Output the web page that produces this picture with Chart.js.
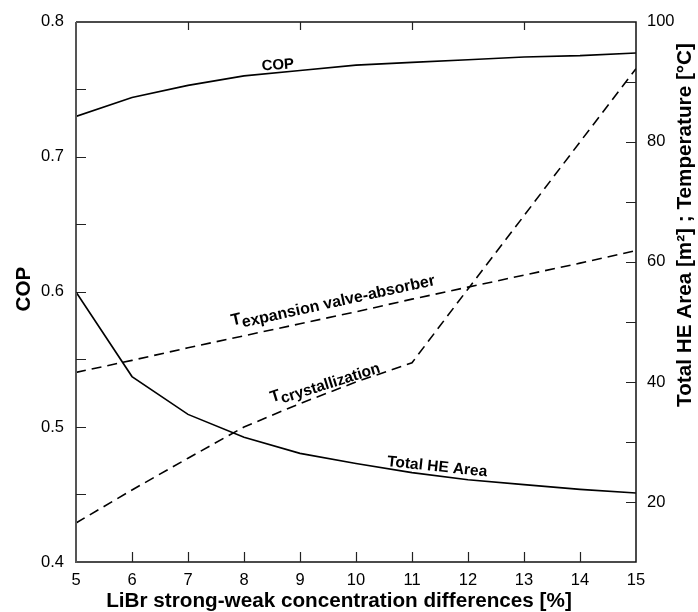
<!DOCTYPE html>
<html>
<head>
<meta charset="utf-8">
<script src="https://cdn.jsdelivr.net/npm/chart.js@4/dist/chart.umd.min.js"></script>
<style>
  html, body { margin: 0; padding: 0; background: #fff; }
  #wrap { width: 698px; height: 612px; }
</style>
</head>
<body>
<div id="wrap"><canvas id="c" width="698" height="612"></canvas></div>
<script>
// ---- data ----
const concDiff = [5, 6, 7, 8, 9, 10, 11, 12, 13, 14, 15];
const copValues = [0.730, 0.744, 0.753, 0.760, 0.764, 0.768, 0.770, 0.772, 0.774, 0.775, 0.777];
const totalHEArea = [55.0, 40.9, 34.6, 30.8, 28.1, 26.4, 24.9, 23.7, 22.9, 22.1, 21.5];
const tExpansionValveAbsorber = [41.6, 43.6, 45.7, 47.7, 49.7, 51.7, 53.8, 55.8, 57.8, 59.8, 61.9];
const tCrystallization = [16.5, 22.0, 27.3, 32.5, 36.4, 40.0, 43.2, 55.5, 67.7, 80.0, 92.2];

// ---- tick values ----
const xTickValues = [5, 6, 7, 8, 9, 10, 11, 12, 13, 14, 15];
const xTopTickMarks = [7, 9, 11, 13];
const leftTickValues = [0.4, 0.5, 0.6, 0.7, 0.8];
const leftTickMarks = [0.45, 0.5, 0.55, 0.6, 0.65, 0.7, 0.75];
const rightTickValues = [20, 40, 60, 80, 100];
const rightTickMarks = [20, 30, 40, 50, 60, 70, 80, 90];

const FONT = '"Liberation Sans", Arial, Helvetica, sans-serif';

function pts(xs, ys) { return xs.map((x, i) => ({ x: x, y: ys[i] })); }

// in-plot text labels (anchored in data units)
const curveLabels = [
  { axis: 'y',  x: 8.32,  y: 0.764, angle: -4,    main: 'COP', sub: '', size: 15 },
  { axis: 'y1', x: 7.79,  y: 49.4,  angle: -12.4, main: 'T', sub: 'expansion valve-absorber', size: 16.5 },
  { axis: 'y1', x: 8.50,  y: 36.6,  angle: -17.5, main: 'T', sub: 'crystallization', size: 16 },
  { axis: 'y1', x: 10.55, y: 26.0,  angle: 6,     main: 'Total HE Area', sub: '', size: 15.5 }
];

const decorPlugin = {
  id: 'decor',
  afterDatasetsDraw(chart) {
    const ctx = chart.ctx;
    const a = chart.chartArea;
    const xs = chart.scales.x, yl = chart.scales.y, yr = chart.scales.y1;
    ctx.save();
    // frame
    ctx.strokeStyle = '#111';
    ctx.lineWidth = 1.5;
    ctx.beginPath();
    ctx.moveTo(a.left, a.top); ctx.lineTo(a.right, a.top);
    ctx.lineTo(a.right, a.bottom); ctx.lineTo(a.left, a.bottom);
    ctx.stroke();
    ctx.strokeStyle = '#555';
    ctx.lineWidth = 2;
    ctx.beginPath();
    ctx.moveTo(a.left, a.top); ctx.lineTo(a.left, a.bottom + 1);
    ctx.stroke();
    // tick marks (inward)
    ctx.strokeStyle = '#222';
    ctx.lineWidth = 1.2;
    ctx.beginPath();
    leftTickMarks.forEach(v => { const p = Math.round(yl.getPixelForValue(v)) + 0.5; ctx.moveTo(a.left, p); ctx.lineTo(a.left + 10, p); });
    rightTickMarks.forEach(v => { const p = Math.round(yr.getPixelForValue(v)) + 0.5; ctx.moveTo(a.right, p); ctx.lineTo(a.right - 10, p); });
    xTickValues.slice(1, -1).forEach(v => { const p = Math.round(xs.getPixelForValue(v)) + 0.5; ctx.moveTo(p, a.bottom); ctx.lineTo(p, a.bottom - 10); });
    xTopTickMarks.forEach(v => { const p = Math.round(xs.getPixelForValue(v)) + 0.5; ctx.moveTo(p, a.top); ctx.lineTo(p, a.top + 8); });
    ctx.stroke();

    // curve labels
    ctx.fillStyle = '#000';
    curveLabels.forEach(l => {
      const px = xs.getPixelForValue(l.x);
      const py = chart.scales[l.axis].getPixelForValue(l.y);
      ctx.save();
      ctx.translate(px, py);
      ctx.rotate(l.angle * Math.PI / 180);
      ctx.textAlign = 'left';
      ctx.textBaseline = 'alphabetic';
      ctx.font = 'bold ' + l.size + 'px ' + FONT;
      ctx.fillText(l.main, 0, 0);
      if (l.sub) {
        const w = ctx.measureText(l.main).width;
        ctx.font = 'bold ' + (l.size - 0.5) + 'px ' + FONT;
        ctx.fillText(l.sub, w, 4);
      }
      ctx.restore();
    });

    // axis titles
    ctx.font = 'bold 20.7px ' + FONT;
    ctx.textAlign = 'center';
    ctx.textBaseline = 'middle';
    ctx.fillText('LiBr strong-weak concentration differences [%]', 339, 601);
    ctx.save();
    ctx.translate(24, 289);
    ctx.rotate(-Math.PI / 2);
    ctx.fillText('COP', 0, 0);
    ctx.restore();
    ctx.save();
    ctx.translate(685, 225);
    ctx.rotate(-Math.PI / 2);
    ctx.fillText('Total HE Area [m\u00B2] ; Temperature [\u00B0C]', 0, 0);
    ctx.restore();
    ctx.restore();
  }
};

const tickFont = { family: FONT, size: 16.5 };

new Chart(document.getElementById('c'), {
  type: 'line',
  data: {
    datasets: [
      { label: 'COP', data: pts(concDiff, copValues), yAxisID: 'y',
        borderColor: '#000', borderWidth: 1.6, pointRadius: 0, tension: 0, fill: false },
      { label: 'Total HE Area', data: pts(concDiff, totalHEArea), yAxisID: 'y1',
        borderColor: '#000', borderWidth: 1.6, pointRadius: 0, tension: 0, fill: false },
      { label: 'T expansion valve-absorber', data: pts(concDiff, tExpansionValveAbsorber), yAxisID: 'y1',
        borderColor: '#000', borderWidth: 1.6, borderDash: [10, 6], pointRadius: 0, tension: 0, fill: false },
      { label: 'T crystallization', data: pts(concDiff, tCrystallization), yAxisID: 'y1',
        borderColor: '#000', borderWidth: 1.6, borderDash: [10, 6], pointRadius: 0, tension: 0, fill: false }
    ]
  },
  options: {
    responsive: false,
    animation: false,
    devicePixelRatio: 1,
    layout: { padding: { top: 18, left: 0, right: 0, bottom: 0 } },
    plugins: { legend: { display: false }, tooltip: { enabled: false }, title: { display: false } },
    scales: {
      x: {
        type: 'linear', position: 'bottom', min: 5, max: 15,
        grid: { display: false, drawTicks: false }, border: { display: false },
        afterBuildTicks: s => { s.ticks = xTickValues.map(v => ({ value: v })); },
        afterFit: s => { s.height = 50; },
        ticks: { font: tickFont, color: '#000', padding: 9, autoSkip: false, maxRotation: 0 }
      },
      y: {
        type: 'linear', position: 'left', min: 0.4, max: 0.8,
        grid: { display: false, drawTicks: false }, border: { display: false },
        afterBuildTicks: s => { s.ticks = leftTickValues.map(v => ({ value: v })); },
        afterFit: s => { s.width = 76; },
        ticks: { font: tickFont, color: '#000', padding: 12, callback: v => v.toFixed(1) }
      },
      y1: {
        type: 'linear', position: 'right', min: 10, max: 100,
        grid: { display: false, drawTicks: false }, border: { display: false },
        afterBuildTicks: s => { s.ticks = rightTickValues.map(v => ({ value: v })); },
        afterFit: s => { s.width = 62; },
        ticks: { font: tickFont, color: '#000', padding: 11 }
      }
    }
  },
  plugins: [decorPlugin]
});
</script>
</body>
</html>
